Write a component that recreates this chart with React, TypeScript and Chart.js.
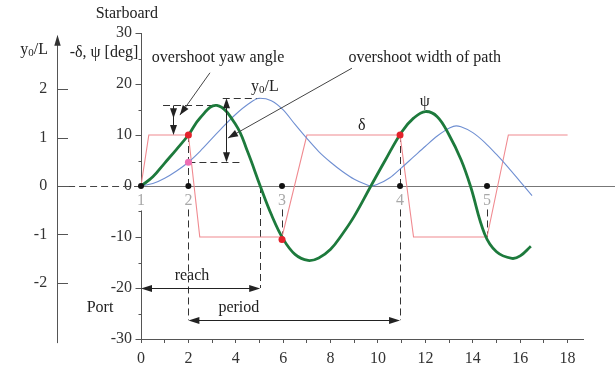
import React, { useEffect, useRef } from 'react';
import { Chart, registerables } from 'chart.js';

Chart.register(...registerables);

const SERIF = '"Liberation Serif", "Times New Roman", serif';

// ---------- data ----------
const T_MIN = 0;
const T_MAX = 18.65;
const X_TICK_STEP = 1;
const DEG_MIN = -30;
const DEG_MAX = 30;
const YL_MIN = -3.155;
const YL_MAX = 3.155;

// rudder angle -delta [deg]
const RUDDER_T = [0, 0.33, 2, 2.48, 5.95, 7.0, 10.93, 11.5, 14.6, 15.5, 18];
const RUDDER = [0, 10, 10, -10, -10, 10, 10, -10, -10, 10, 10];

// heading psi [deg]
const PSI_T = [0, 0.5, 1, 1.5, 2, 2.5, 3.2, 4, 4.5, 5.03, 5.5, 6, 6.5, 7.05, 7.5, 8, 8.5, 9, 9.7, 10.3, 11, 11.5, 12, 12.5, 13, 13.5, 13.9, 14.5, 15, 15.65, 16, 16.45];
const PSI = [0, 1.8, 4.5, 7.2, 10, 13.4, 15.8, 12.0, 6.7, 0, -5.6, -10.4, -13.4, -14.6, -14.1, -12.4, -9.4, -5.9, 0, 5.0, 10.6, 13.3, 14.6, 13.6, 10, 5.2, 0, -9.4, -12.9, -14.2, -13.7, -11.8];

// lateral deviation y0/L [-]
const Y0_T = [0, 0.5, 1, 1.5, 2, 2.5, 3, 3.5, 4, 4.5, 5, 5.5, 6, 6.5, 7, 7.5, 8, 8.5, 9, 9.5, 9.7, 10, 10.5, 11, 11.5, 12, 12.5, 13, 13.3, 13.5, 14, 14.5, 15, 15.5, 16, 16.5];
const Y0L = [0, 0.05, 0.16, 0.31, 0.49, 0.72, 0.98, 1.24, 1.48, 1.68, 1.81, 1.76, 1.57, 1.27, 0.98, 0.71, 0.49, 0.3, 0.14, 0.03, 0, 0.04, 0.17, 0.38, 0.6, 0.82, 1.03, 1.19, 1.24, 1.22, 1.1, 0.9, 0.65, 0.38, 0.09, -0.2];

// numbered execute points on the zero line
const CHECK_T = [0, 2, 5.95, 10.93, 14.6];
const CHECK_LABELS = ['1', '2', '3', '4', '5'];
// red markers on psi
const RED_T = [2, 5.95, 10.93];
const RED_V = [10, -10.5, 10];
// pink marker on y0/L
const PINK_T = [2];
const PINK_V = [0.49];

// axis tick values
const DEG_MAJOR = [-30, -20, -10, 0, 10, 20, 30];
const DEG_MINOR = [-25, -15, -5, 5, 15, 25];
const YL_TICKS = [-2, -1, 0, 1, 2];
const YL_LABELS = ['-2', '-1', '0', '1', '2'];

// annotation values
const LEFT_AXIS_T = -3.54;
const ZERO_LINE_END_T = 20;
const YAW_DIM = { t: 1.35, top: 15.8, bottom: 10, mid: 13.3, dashFrom: 0.93, dashTo: 3.0 };
const WIDTH_DIM = { t: 3.6, top: 1.81, bottom: 0.49, topDash: [3.45, 5.0], botDash: [2, 4.26] };
const REACH = { v: -20, from: 0, to: 5.03 };
const PERIOD = { v: -26.3, from: 2, to: 10.93 };
const DROPS = [
  { t: 2, from: 10, to: 0 },
  { t: 2, from: -4.6, to: -26.3 },
  { t: 5.03, from: 0, to: -20 },
  { t: 5.95, from: -4.6, to: -10.5 },
  { t: 10.93, from: 10, to: 0 },
  { t: 10.93, from: -4.6, to: -26.3 },
  { t: 14.6, from: -4.6, to: -10 },
];
const YAW_LEADER = { t1: 2.91, v1: 22.2, t2: 1.64, v2: 13.9 };
const WIDTH_LEADER = { t1: 8.9, v1: 23.1, t2: 3.67, v2: 9.4 };
const TEXTS = [
  { s: 'Starboard', t: -0.6, v: 33.8 },
  { s: '-δ, ψ [deg]', t: -1.56, v: 26.1 },
  { s: 'overshoot yaw angle', t: 3.25, v: 25.1 },
  { s: 'overshoot width of path', t: 11.97, v: 25.1 },
  { s: 'ψ', t: 11.97, v: 16.5 },
  { s: 'δ', t: 9.32, v: 11.8 },
  { s: 'reach', t: 2.15, v: -17.6 },
  { s: 'period', t: 4.13, v: -23.9 },
  { s: 'Port', t: -1.73, v: -23.9 },
];
const SUB_LABELS = [
  { t: -4.51, v: 26.7 },
  { t: 5.23, v: 19.4 },
];
const CHECK_LABEL_V = -2.9;

// ---------- helpers ----------
const pts = (xs: number[], ys: number[]) => xs.map((x, i) => ({ x, y: ys[i] }));
const c = (v: number) => Math.round(v) + 0.5;

function seg(ctx: CanvasRenderingContext2D, x1: number, y1: number, x2: number, y2: number, color: string, width: number, dash: number[] = []) {
  ctx.save();
  ctx.strokeStyle = color;
  ctx.lineWidth = width;
  ctx.setLineDash(dash);
  ctx.beginPath();
  ctx.moveTo(x1, y1);
  ctx.lineTo(x2, y2);
  ctx.stroke();
  ctx.restore();
}

function head(ctx: CanvasRenderingContext2D, tx: number, ty: number, fx: number, fy: number, len = 10, half = 3.5, color = '#111') {
  const a = Math.atan2(ty - fy, tx - fx);
  const ca = Math.cos(a), sa = Math.sin(a);
  ctx.save();
  ctx.fillStyle = color;
  ctx.beginPath();
  ctx.moveTo(tx, ty);
  ctx.lineTo(tx - len * ca + half * sa, ty - len * sa - half * ca);
  ctx.lineTo(tx - len * ca - half * sa, ty - len * sa + half * ca);
  ctx.closePath();
  ctx.fill();
  ctx.restore();
}

function subLabel(ctx: CanvasRenderingContext2D, cx: number, cy: number, size: number) {
  ctx.save();
  ctx.fillStyle = '#222';
  ctx.textBaseline = 'middle';
  ctx.textAlign = 'left';
  const big = `${size}px ${SERIF}`;
  const small = `${Math.round(size * 0.68)}px ${SERIF}`;
  ctx.font = big;
  const wy = ctx.measureText('y').width;
  const wl = ctx.measureText('/L').width;
  ctx.font = small;
  const w0 = ctx.measureText('0').width;
  let x = cx - (wy + w0 + wl) / 2;
  ctx.font = big;
  ctx.fillText('y', x, cy);
  x += wy;
  ctx.font = small;
  ctx.fillText('0', x, cy + size * 0.22);
  x += w0;
  ctx.font = big;
  ctx.fillText('/L', x, cy);
  ctx.restore();
}

const annotPlugin = {
  id: 'annot',
  beforeDatasetsDraw(chart: any) {
    const { ctx } = chart;
    const xs = chart.scales.x, ys = chart.scales.y, yls = chart.scales.yL;
    const X = (v: number) => xs.getPixelForValue(v);
    const Y = (v: number) => ys.getPixelForValue(v);
    const YL = (v: number) => yls.getPixelForValue(v);
    const axis = '#555';
    const dash = [7, 4];

    // zero line
    seg(ctx, X(0), c(Y(0)), X(ZERO_LINE_END_T), c(Y(0)), '#777', 1);
    seg(ctx, X(LEFT_AXIS_T), c(Y(0)), X(0), c(Y(0)), '#444', 1, dash);

    // deg axis (with gap under label "1")
    const ax = c(X(0));
    seg(ctx, ax, Y(DEG_MAX), ax, Y(0), axis, 1);
    seg(ctx, ax, Y(-4.8), ax, Y(DEG_MIN), axis, 1);
    DEG_MAJOR.forEach((v) => seg(ctx, ax - 6, c(Y(v)), ax, c(Y(v)), axis, 1));
    DEG_MINOR.forEach((v) => seg(ctx, ax - 3, c(Y(v)), ax, c(Y(v)), axis, 1));

    // y0/L axis
    const lx = c(X(LEFT_AXIS_T));
    seg(ctx, lx, YL(3.0), lx, YL(-3.24), axis, 1);
    head(ctx, lx, YL(3.12), lx, YL(0), 11, 3.2, '#333');
    YL_TICKS.forEach((v) => seg(ctx, lx, c(YL(v)), X(-3.08), c(YL(v)), axis, 1));
    ctx.save();
    ctx.font = `16px ${SERIF}`;
    ctx.fillStyle = '#333';
    ctx.textAlign = 'right';
    ctx.textBaseline = 'middle';
    YL_TICKS.forEach((v, i) => ctx.fillText(YL_LABELS[i], X(-3.96), YL(v)));
    ctx.restore();

    // dashed drop lines
    DROPS.forEach((d) => seg(ctx, c(X(d.t)), Y(d.from), c(X(d.t)), Y(d.to), '#333', 1, dash));

    // yaw overshoot dimension
    seg(ctx, X(YAW_DIM.dashFrom), c(Y(YAW_DIM.top)), X(YAW_DIM.dashTo), c(Y(YAW_DIM.top)), '#333', 1, dash);
    // width overshoot dimension
    seg(ctx, X(WIDTH_DIM.topDash[0]), c(YL(WIDTH_DIM.top)), X(WIDTH_DIM.topDash[1]), c(YL(WIDTH_DIM.top)), '#333', 1, dash);
    seg(ctx, X(WIDTH_DIM.botDash[0]), c(YL(WIDTH_DIM.bottom)), X(WIDTH_DIM.botDash[1]), c(YL(WIDTH_DIM.bottom)), '#333', 1, dash);
  },
  afterDatasetsDraw(chart: any) {
    const { ctx } = chart;
    const xs = chart.scales.x, ys = chart.scales.y, yls = chart.scales.yL;
    const X = (v: number) => xs.getPixelForValue(v);
    const Y = (v: number) => ys.getPixelForValue(v);
    const YL = (v: number) => yls.getPixelForValue(v);
    const ink = '#222';

    // yaw overshoot arrow
    const yx = c(X(YAW_DIM.t));
    seg(ctx, yx, Y(YAW_DIM.top), yx, Y(YAW_DIM.bottom) - 4, ink, 1);
    head(ctx, yx, Y(YAW_DIM.bottom), yx, Y(YAW_DIM.top), 10, 3.5, ink);
    head(ctx, yx, Y(YAW_DIM.mid), yx, Y(YAW_DIM.top), 10, 3.5, ink);

    // width overshoot arrow
    const wx = c(X(WIDTH_DIM.t));
    seg(ctx, wx, YL(WIDTH_DIM.top) + 4, wx, YL(WIDTH_DIM.bottom) - 4, ink, 1);
    head(ctx, wx, YL(WIDTH_DIM.top), wx, YL(WIDTH_DIM.bottom), 10, 3.5, ink);
    head(ctx, wx, YL(WIDTH_DIM.bottom), wx, YL(WIDTH_DIM.top), 10, 3.5, ink);

    // leaders
    [YAW_LEADER, WIDTH_LEADER].forEach((l) => {
      const x1 = X(l.t1), y1 = Y(l.v1), x2 = X(l.t2), y2 = Y(l.v2);
      seg(ctx, x1, y1, x2, y2, '#444', 1);
      head(ctx, x2, y2, x1, y1, 10, 3.5, ink);
    });

    // reach & period
    [REACH, PERIOD].forEach((r) => {
      const yy = c(Y(r.v));
      seg(ctx, X(r.from) + 4, yy, X(r.to) - 4, yy, ink, 1);
      head(ctx, X(r.from), yy, X(r.to), yy, 11, 3.5, ink);
      head(ctx, X(r.to), yy, X(r.from), yy, 11, 3.5, ink);
    });

    // texts
    ctx.save();
    ctx.font = `16px ${SERIF}`;
    ctx.fillStyle = ink;
    ctx.textAlign = 'center';
    ctx.textBaseline = 'middle';
    TEXTS.forEach((tx) => ctx.fillText(tx.s, X(tx.t), Y(tx.v)));
    ctx.fillStyle = '#a8a8a8';
    ctx.font = `16px ${SERIF}`;
    CHECK_T.forEach((t, i) => ctx.fillText(CHECK_LABELS[i], X(t), Y(CHECK_LABEL_V)));
    ctx.restore();
    SUB_LABELS.forEach((s) => subLabel(ctx, X(s.t), Y(s.v), 16));
  },
};

export default function App() {
  const ref = useRef<HTMLCanvasElement | null>(null);
  useEffect(() => {
    if (!ref.current) return;
    Chart.defaults.font.family = SERIF;
    const chart = new Chart(ref.current, {
      type: 'line',
      data: {
        datasets: [
          { type: 'scatter', label: 'execute', data: pts(CHECK_T, CHECK_T.map(() => 0)), pointRadius: 3, backgroundColor: '#111', borderWidth: 0, clip: false } as any,
          { type: 'scatter', label: 'red', data: pts(RED_T, RED_V), pointRadius: 3.5, backgroundColor: '#e3232c', borderWidth: 0, clip: false } as any,
          { type: 'scatter', label: 'pink', data: pts(PINK_T, PINK_V), pointRadius: 3.5, backgroundColor: '#ee6fb4', borderWidth: 0, yAxisID: 'yL', clip: false } as any,
          { label: 'psi', data: pts(PSI_T, PSI), borderColor: '#1d7a3c', borderWidth: 2.8, pointRadius: 0, tension: 0.4, yAxisID: 'y' },
          { label: 'y0/L', data: pts(Y0_T, Y0L), borderColor: '#6f8fd2', borderWidth: 1.1, pointRadius: 0, cubicInterpolationMode: 'monotone', yAxisID: 'yL' },
          { label: 'delta', data: pts(RUDDER_T, RUDDER), borderColor: '#f08a90', borderWidth: 1.1, pointRadius: 0, tension: 0, yAxisID: 'y' },
        ],
      },
      options: {
        animation: false,
        responsive: false,
        devicePixelRatio: 1,
        events: [],
        layout: { padding: { top: 33, right: 32, left: 0, bottom: 0 } },
        plugins: { legend: { display: false }, tooltip: { enabled: false } },
        scales: {
          x: {
            type: 'linear',
            position: 'bottom',
            min: T_MIN,
            max: T_MAX,
            afterFit: (s: any) => { s.height = 30; },
            grid: { drawOnChartArea: false, drawTicks: true, tickLength: 4, color: '#555' },
            border: { display: true, color: '#555', width: 1 },
            ticks: {
              stepSize: X_TICK_STEP,
              includeBounds: false,
              autoSkip: false,
              maxRotation: 0,
              padding: 6,
              color: '#333',
              font: { size: 16, family: SERIF },
              callback: (v: any) => (Number(v) % 2 === 0 ? String(v) : ''),
            },
          },
          y: {
            type: 'linear',
            position: 'left',
            min: DEG_MIN,
            max: DEG_MAX,
            afterFit: (s: any) => { s.width = 141; },
            grid: { display: false, drawTicks: false },
            border: { display: false },
            ticks: { stepSize: 10, padding: 9, color: '#333', font: { size: 16, family: SERIF } },
          },
          yL: {
            type: 'linear',
            position: 'left',
            display: false,
            min: YL_MIN,
            max: YL_MAX,
          },
        },
      } as any,
      plugins: [annotPlugin],
    });
    return () => chart.destroy();
  }, []);
  return (
    <div style={{ position: 'absolute', left: 0, top: 0, width: 615, height: 369, background: '#fff' }}>
      <canvas ref={ref} width={615} height={369} style={{ display: 'block' }} />
    </div>
  );
}
